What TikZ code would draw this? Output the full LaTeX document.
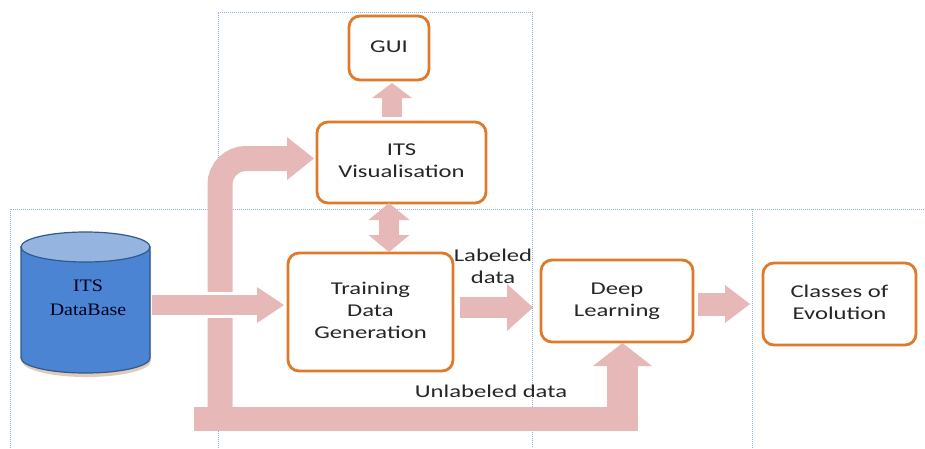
\documentclass[tikz,border=0pt]{standalone}
\usepackage{fontspec}
\usepackage{graphicx}
\setmainfont{Carlito}
\newfontfamily\dbfont{Liberation Serif}
\usetikzlibrary{arrows.meta,calc}
\definecolor{pk}{HTML}{E6B9B8}
\definecolor{orb}{HTML}{DF7A2A}
\definecolor{frmc}{HTML}{92B2DC}
\definecolor{dbf}{HTML}{4A84D2}
\definecolor{dbt}{HTML}{95B5E0}
\definecolor{dbl}{HTML}{2E5A8E}
\definecolor{shd}{HTML}{C9A27E}
\definecolor{txt}{HTML}{262626}
\newcommand{\stx}[1]{\scalebox{1.37}[1]{\begin{tabular}{@{}c@{}}#1\end{tabular}}}
\begin{document}
\begin{tikzpicture}[x=1pt,y=-1pt,
  box/.style={draw=orb, line width=2.8pt, rounded corners=11pt, fill=white,
    inner sep=0pt, outer sep=0pt, font=\fontsize{18}{22}\selectfont, text=txt},
  lbl/.style={inner sep=0pt, font=\fontsize{18}{22}\selectfont, text=txt},
  frm/.style={draw=frmc, dash pattern=on 1pt off 1pt, line width=0.9pt},
  pka/.style={draw=pk, line cap=butt}]
\useasboundingbox (0,0) rectangle (925,448);
\fill[white] (0,0) rectangle (925,448);
% dotted frames
\draw[frm] (218,448) -- (218,12) -- (532,12) -- (532,448);
\draw[frm] (10,448) -- (10,209) -- (925,209);
\draw[frm] (752,209) -- (752,448);
% boxes
\node[box, minimum width=80pt, minimum height=64pt] (gui) at (389,48) {\stx{GUI}};
\node[box, minimum width=169pt, minimum height=81pt] (vis) at (401.5,162.5) {\stx{ITS\\Visualisation}};
\node[box, minimum width=165pt, minimum height=118pt] (tdg) at (370.5,312) {\stx{Training\\Data\\Generation}};
\node[box, minimum width=152pt, minimum height=82pt] (dl) at (617,301) {\stx{Deep\\Learning}};
\node[box, minimum width=153pt, minimum height=82pt] (coe) at (839.5,304) {\stx{Classes of\\Evolution}};
% database cylinder
\draw[draw=none, fill=shd, opacity=.55] (22,251) -- (22,361) arc[start angle=180, end angle=360, x radius=64.5pt, y radius=16pt] -- (151,251) -- cycle;
\filldraw[fill=dbf, draw=dbl, line width=1.2pt] (21,247) -- (21,358) arc[start angle=180, end angle=360, x radius=64.5pt, y radius=15pt] -- (150,247) -- cycle;
\filldraw[fill=dbt, draw=dbl, line width=1.2pt] (85.5,247) ellipse[x radius=64.5pt, y radius=15pt];
\node[inner sep=0pt, font=\dbfont\fontsize{17.5}{23.4}\selectfont, text=black!90!blue] (db) at (88,299)
  {\scalebox{1.14}[1]{\begin{tabular}{@{}c@{}}ITS\\DataBase\end{tabular}}};
% coordinates
\coordinate (dbr) at (152,305);
\coordinate (bendstart) at (220,418);
\coordinate (busL) at (194,407);
\coordinate (busR) at (638,431);
\coordinate (busEnd) at (622.5,431);
% arrows
\draw[pka, line width=20pt, -{Triangle[length=15pt,width=40pt,line width=0pt]}]
  ($(vis.north)+(-9.5,-5)$) -- ($(gui.south)+(3,3)$);
\draw[pka, line width=20pt, {Triangle[length=17pt,width=41pt,line width=0pt]}-{Triangle[length=17pt,width=41pt,line width=0pt]}]
  ($(vis.south)+(-12.5,0)$) -- ($(tdg.north)+(18.5,-1)$);
\draw[pka, line width=25pt, rounded corners=26pt, -{Triangle[length=27pt,width=43pt,line width=0pt]}]
  (bendstart) |- ($(vis.west)+(-3,-4)$);
\fill[pk] (busL) rectangle (busR);
\draw[pka, line width=31pt, -{Triangle[length=23pt,width=59pt,line width=0pt]}]
  (busEnd) -- ($(dl.south)+(5.5,1)$);
\fill[white] (202,292) rectangle (238,318);
\draw[pka, line width=20pt, -{Triangle[length=27pt,width=36pt,line width=0pt]}]
  (dbr) -- ($(tdg.west)+(-4,-7)$);
\draw[pka, line width=21pt, -{Triangle[length=26pt,width=47pt,line width=0pt]}]
  ($(tdg.east)+(7,-4.5)$) -- ($(dl.west)+(-8,6.5)$);
\draw[pka, line width=23pt, -{Triangle[length=25pt,width=38pt,line width=0pt]}]
  ($(dl.east)+(5,3)$) -- ($(coe.west)+(-13,0)$);
% labels
\node[lbl] (lab) at (493,268) {\stx{Labeled\\data}};
\node[lbl] (unlab) at (491,393) {\stx{Unlabeled data}};
\end{tikzpicture}
\end{document}
